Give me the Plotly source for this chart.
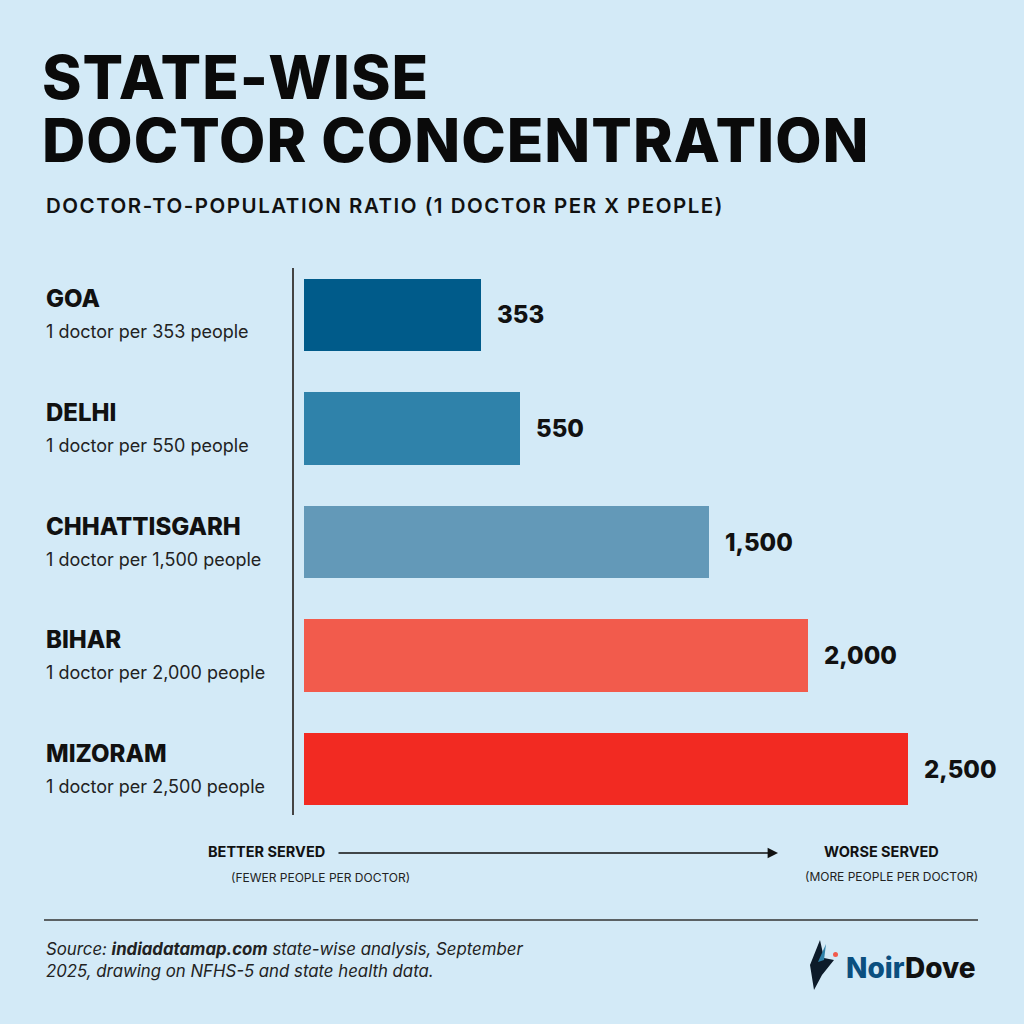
import plotly.graph_objects as go

states = ["GOA", "DELHI", "CHHATTISGARH", "BIHAR", "MIZORAM"]
people_per_doctor = [353, 550, 1500, 2000, 2500]
value_labels = ["353", "550", "1,500", "2,000", "2,500"]
bar_colors = ["#005B8A", "#2F82AA", "#6399B8", "#F25B4C", "#F22A22"]

BG = "#D3EAF7"
W = H = 1024
FONT = "Inter, 'Open Sans', sans-serif"


def px(x):
    return x / W


def py(y):
    return 1 - y / H


def note(x, y, text, size, weight=400, anchor="left", color="#111", **kw):
    d = dict(x=px(x), y=py(y), xref="paper", yref="paper", text=text, showarrow=False,
             xanchor=anchor, yanchor="middle",
             font=dict(family=FONT, size=size, color=color, weight=weight))
    d.update(kw)
    return d


idx = list(range(len(states)))
# the design uses a shifted baseline so short bars stay readable
BASE = -536

fig = go.Figure()
fig.add_trace(go.Bar(
    x=[v - BASE for v in people_per_doctor], y=idx, base=BASE,
    orientation="h", width=0.64,
    marker=dict(color=bar_colors, line=dict(width=0)),
    hoverinfo="skip",
))

annotations = []
for i, (s, v, lab) in enumerate(zip(states, people_per_doctor, value_labels)):
    annotations.append(dict(x=px(44), xref="paper", y=i, yref="y", yshift=16,
                            text=s, showarrow=False, xanchor="left", yanchor="middle",
                            font=dict(family=FONT, size=24, color="#111", weight=800)))
    annotations.append(dict(x=px(44), xref="paper", y=i, yref="y", yshift=-17,
                            text="1 doctor per %s people" % lab, showarrow=False,
                            xanchor="left", yanchor="middle",
                            font=dict(family=FONT, size=18, color="#222")))
    annotations.append(dict(x=v, xref="x", y=i, yref="y", xshift=14,
                            text=lab, showarrow=False, xanchor="left", yanchor="middle",
                            font=dict(family=FONT, size=24, color="#111", weight=800)))

annotations += [
    note(40, 77, "<span style='letter-spacing:1px'>STATE-WISE</span>", 60, 800,
         color="#0a0a0a", height=58),
    note(40, 140, "<span style='letter-spacing:1px'>DOCTOR CONCENTRATION</span>", 60, 800,
         color="#0a0a0a", height=58),
    note(44, 205, "<span style='letter-spacing:1.5px'>DOCTOR-TO-POPULATION RATIO "
                  "(1 DOCTOR PER X PEOPLE)</span>", 20.5, 600),
    # direction guide
    note(206, 851, "BETTER SERVED", 14.5, 700),
    note(320, 877, "(FEWER PEOPLE PER DOCTOR)", 12, 400, anchor="center", color="#222"),
    note(881, 851, "WORSE SERVED", 14.5, 700, anchor="center"),
    note(891, 876, "(MORE PEOPLE PER DOCTOR)", 12, 400, anchor="center", color="#222"),
    # source
    note(44, 960, "<i>Source: <b>indiadatamap.com</b> state-wise analysis, September<br>"
                  "2025, drawing on NFHS-5 and state health data.</i>", 16.8, 400,
         color="#222", align="left"),
    # logo
    note(978, 968, "<span style='color:#0B4F7F'>Noir</span>Dove", 28, 800, anchor="right"),
    # arrow
    dict(x=px(778), y=py(853), xref="paper", yref="paper", ax=-441, ay=0,
         text="", showarrow=True, arrowhead=2, arrowsize=1.3,
         arrowwidth=1.6, arrowcolor="#111"),
]

shapes = [
    dict(type="line", xref="paper", yref="paper", x0=px(44), x1=px(978),
         y0=py(920), y1=py(920), line=dict(color="#333", width=1.3)),
    # bird mark
    dict(type="path", xref="paper", yref="paper",
         path="M %f %f L %f %f L %f %f L %f %f L %f %f L %f %f Z" % (
             px(814), py(990), px(810), py(965), px(820), py(940),
             px(824), py(958), px(834), py(960), px(822), py(975)),
         fillcolor="#0d1b2a", line=dict(width=0)),
    dict(type="path", xref="paper", yref="paper",
         path="M %f %f L %f %f L %f %f Z" % (
             px(818), py(962), px(826), py(944), px(824), py(960)),
         fillcolor="#2F82AA", line=dict(width=0)),
    dict(type="circle", xref="paper", yref="paper", x0=px(833), x1=px(838),
         y0=py(957), y1=py(952), fillcolor="#F25B4C", line=dict(width=0)),
]

fig.update_layout(
    width=W, height=H,
    paper_bgcolor=BG, plot_bgcolor=BG,
    margin=dict(l=0, r=0, t=0, b=0),
    showlegend=False,
    bargap=0,
    xaxis=dict(domain=[px(294), 1], range=[-586, 3084], visible=False, fixedrange=True),
    yaxis=dict(domain=[py(815), py(268)], range=[4.405, -0.414], showline=True,
               linecolor="#444", linewidth=2, showgrid=False, zeroline=False,
               showticklabels=False, ticks="", fixedrange=True),
    annotations=annotations,
    shapes=shapes,
)

fig.write_html("out.html", config={"displayModeBar": False},
               post_script="document.body.style.margin='0';")
